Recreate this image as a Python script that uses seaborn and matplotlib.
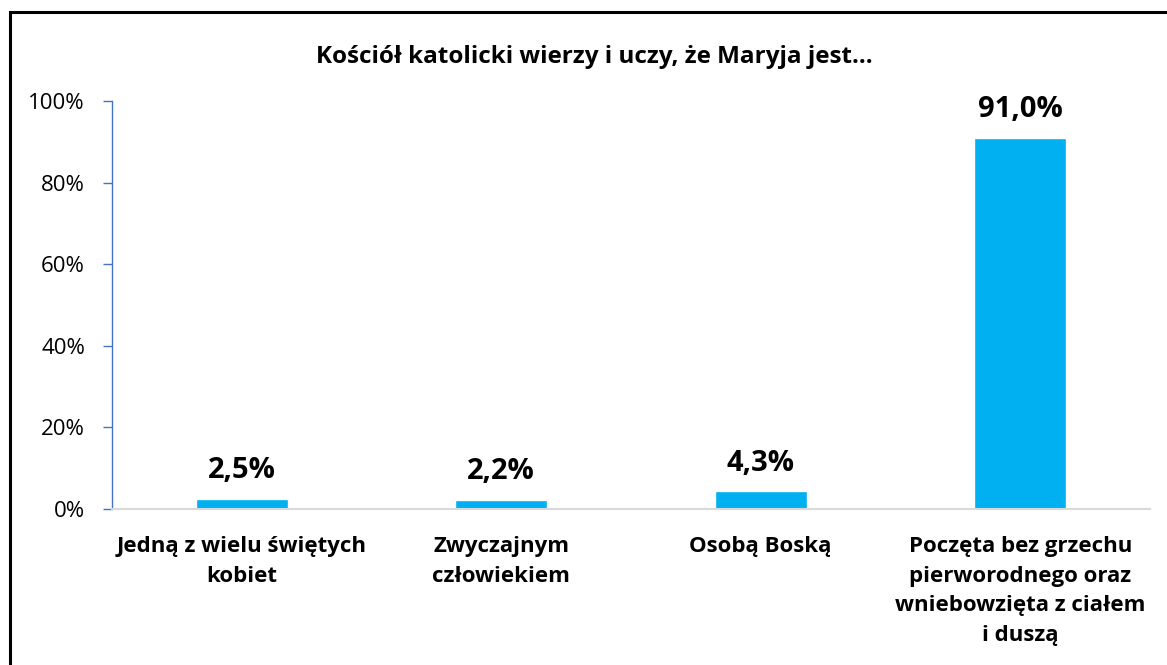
import matplotlib
matplotlib.use('Agg')
from matplotlib import pyplot as plt
from matplotlib.patches import Rectangle
from matplotlib.ticker import FuncFormatter
import pandas as pd
import seaborn as sns

categories = ['Jedną z wielu świętych\nkobiet',
              'Zwyczajnym\nczłowiekiem',
              'Osobą Boską',
              'Poczęta bez grzechu\npierworodnego oraz\nwniebowzięta z ciałem\ni duszą']
values = [2.5, 2.2, 4.3, 91.0]
value_labels = ['2,5%', '2,2%', '4,3%', '91,0%']
title = 'Kościół katolicki wierzy i uczy, że Maryja jest…'

df = pd.DataFrame({'kategoria': categories, 'procent': values})

sns.set_style('white')
plt.rcParams['font.family'] = ['Open Sans', 'DejaVu Sans']
plt.rcParams['text.color'] = 'black'
plt.rcParams['xtick.color'] = 'black'
plt.rcParams['ytick.color'] = 'black'

fig = plt.figure(figsize=(11.67, 6.65), dpi=100)
ax = fig.add_axes([0.096, 0.2346, 0.8894, 0.6134])

sns.barplot(x='kategoria', y='procent', data=df, color='#00B0F0',
            saturation=1, width=0.355, ax=ax)

# etykiety wartości nad słupkami
for i, (v, lab) in enumerate(zip(values, value_labels)):
    ax.text(i, v + 3.4, lab, ha='center', va='bottom',
            fontsize=21, fontweight='bold', color='black')

ax.set_ylim(0, 100)
ax.set_xlim(-0.5, 3.5)
ax.set_yticks([0, 20, 40, 60, 80, 100])
ax.yaxis.set_major_formatter(FuncFormatter(lambda y, _: f'{y:.0f}%'))
ax.set_xlabel('')
ax.set_ylabel('')

for s in ['top', 'right']:
    ax.spines[s].set_visible(False)
ax.spines['left'].set_color('#4472C4')
ax.spines['left'].set_linewidth(1.0)
ax.spines['bottom'].set_color('#D9D9D9')
ax.spines['bottom'].set_linewidth(1.5)

ax.tick_params(axis='y', which='major', left=True, length=6.5, width=1,
               color='#4472C4', labelcolor='black', labelsize=16, pad=13,
               direction='out')
ax.tick_params(axis='x', bottom=False, labelsize=16, pad=16,
               labelcolor='black')
for t in ax.get_xticklabels():
    t.set_fontweight('bold')
    t.set_linespacing(1.53)

fig.text(0.509, 0.915, title, ha='center', va='center',
         fontsize=17.5, fontweight='bold', color='black')

# ramka wokół wykresu
border = Rectangle((9.5 / 1167, -0.05), 1.1, (665 - 12) / 665 + 0.05,
                   transform=fig.transFigure, fill=False,
                   edgecolor='black', linewidth=2.2, clip_on=False)
fig.patches.append(border)

fig.savefig('out.png', dpi=100)
